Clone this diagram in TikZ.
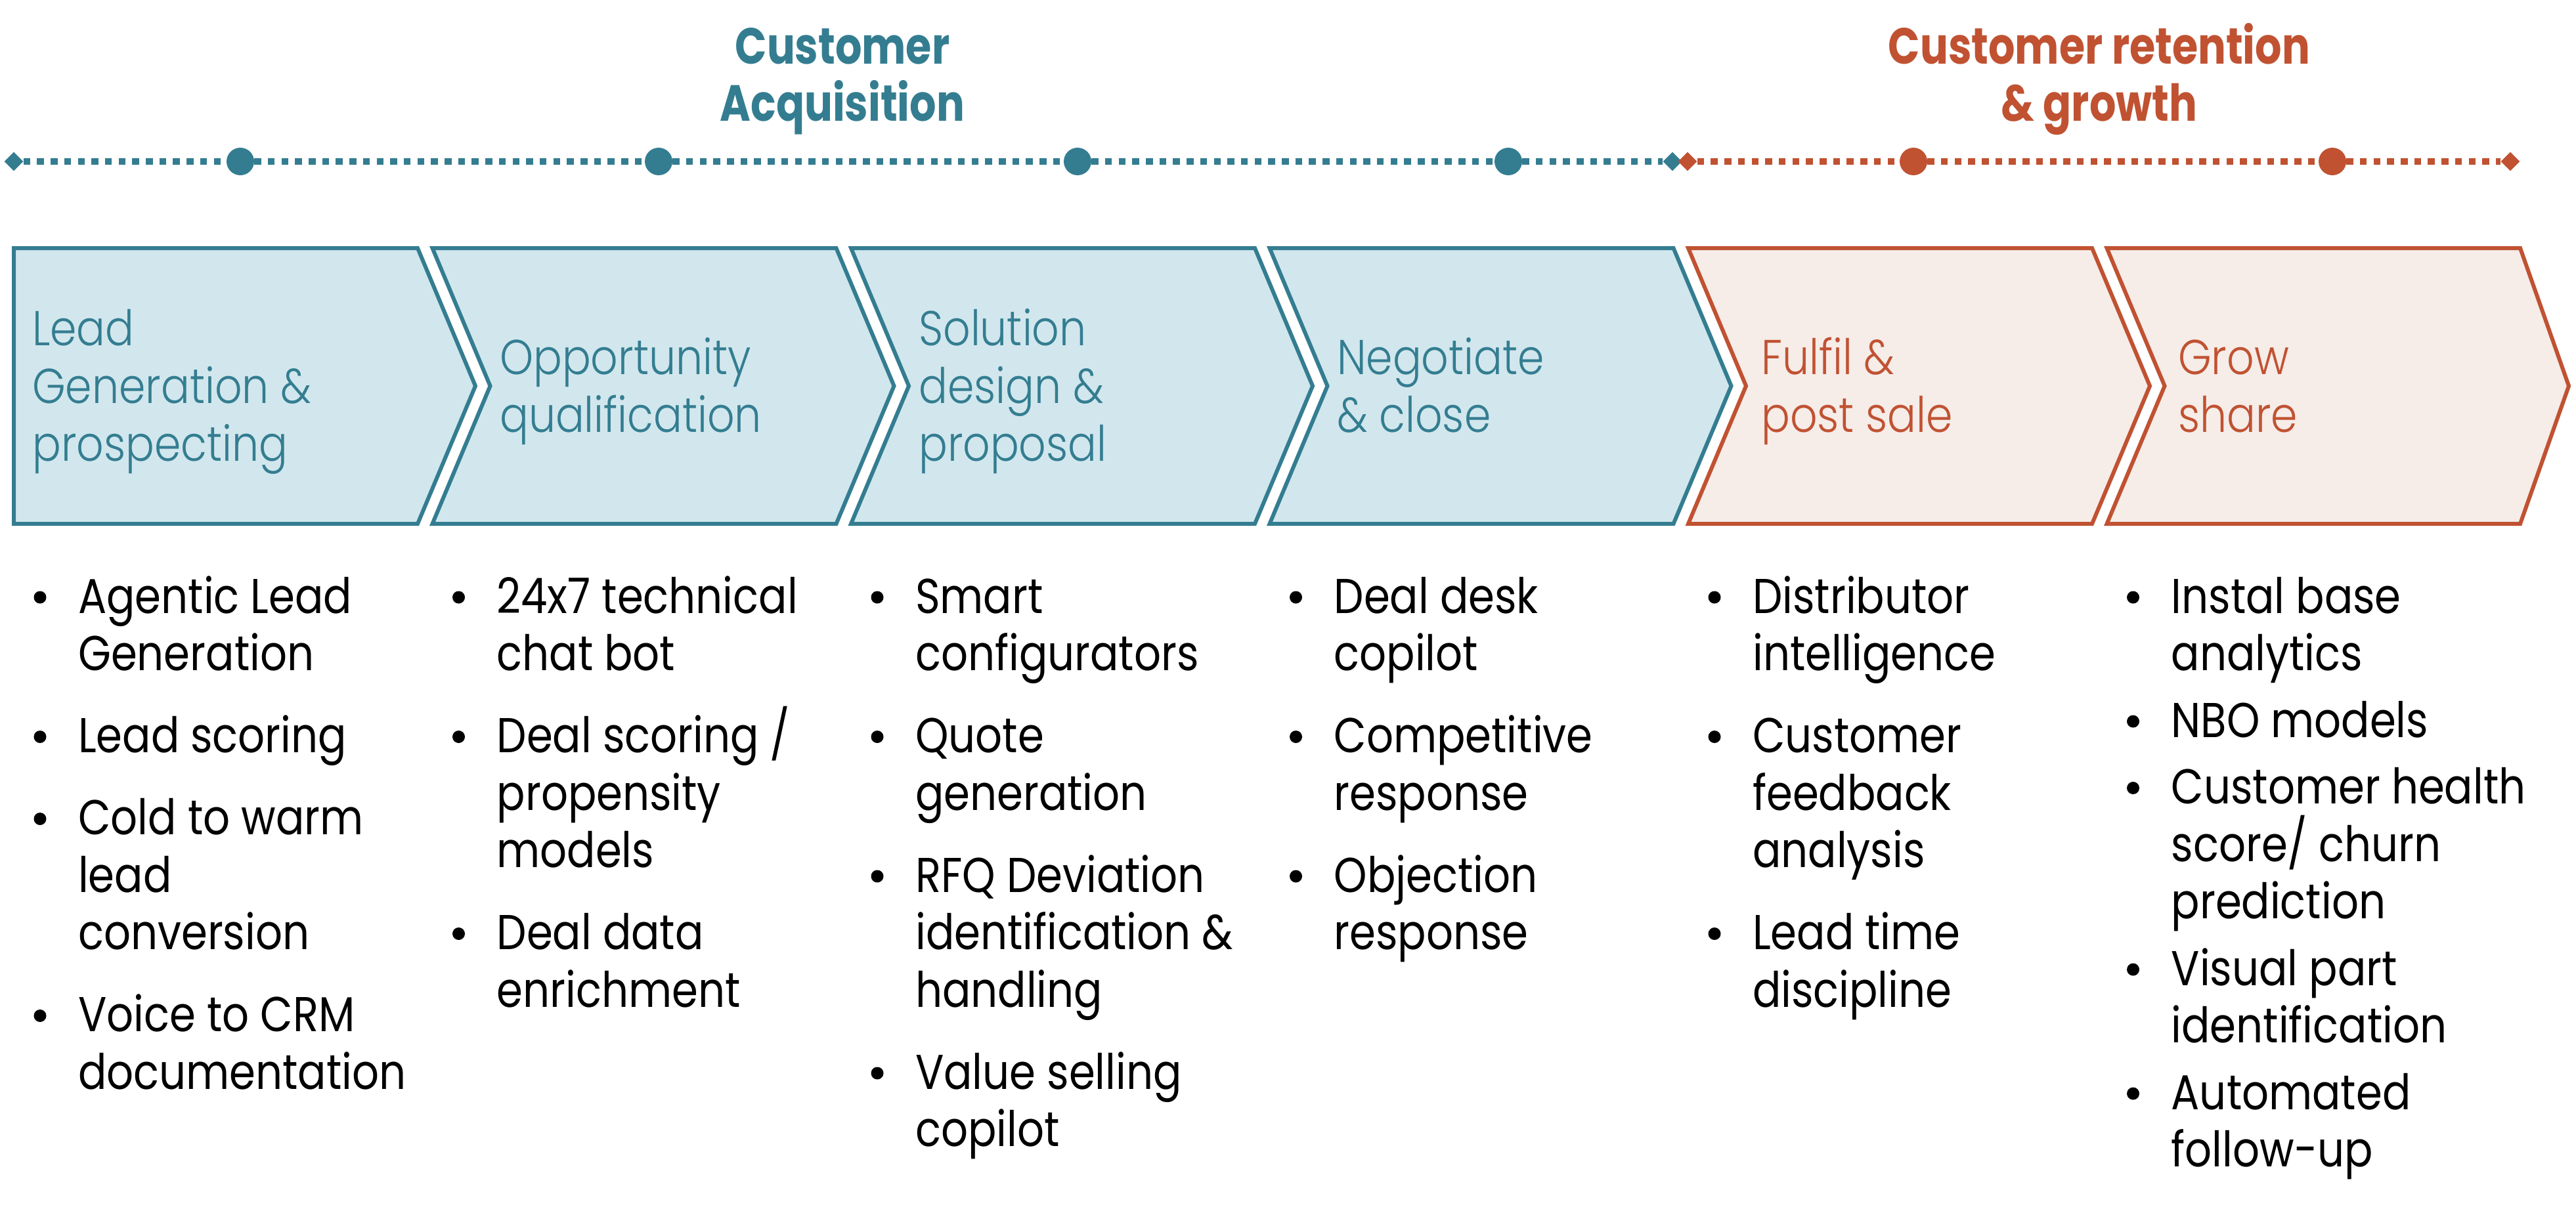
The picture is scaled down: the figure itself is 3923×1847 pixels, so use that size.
\documentclass[tikz,border=0pt]{standalone}
\usepackage{fontspec}
\setmainfont{Poppins}[FakeStretch=0.86]
\newfontfamily\headfont{Poppins}[FakeStretch=0.82]
\newfontfamily\lblfont{Poppins Light}[FakeStretch=0.87]
\usetikzlibrary{shapes.geometric}
\definecolor{tealc}{HTML}{347D91}
\definecolor{tealfill}{HTML}{D1E7ED}
\definecolor{orc}{HTML}{C05232}
\definecolor{orfill}{HTML}{F6ECE8}
\newcommand\bl[4]{\node[bodytxt] (#1) at (#2,#3) {#4};}
\newcommand\bd[3]{\node[bdot] (#1) at (#2,#3) {};}
\begin{document}
\begin{tikzpicture}[x=1pt,y=-1pt,
  bodytxt/.style={anchor=base west, inner sep=0pt, font=\fontsize{74.6}{87.5}\selectfont, text=black},
  lbl/.style={anchor=base west, inner sep=0pt, font=\lblfont\fontsize{74.6}{87.5}\selectfont},
  head/.style={anchor=base, inner sep=0pt, font=\headfont\bfseries\fontsize{77.5}{87}\selectfont},
  bdot/.style={circle, fill=black, inner sep=0pt, minimum size=19pt},
  mstone/.style={circle, inner sep=0pt, minimum size=42pt},
  dia/.style={diamond, inner sep=0pt, minimum width=29pt, minimum height=29pt},
  tline/.style={line width=10.5pt, dash pattern=on 10.5pt off 10.2pt},
  boxt/.style={draw=tealc, fill=tealfill, line width=6pt, line join=miter},
  boxo/.style={draw=orc, fill=orfill, line width=6pt, line join=miter}]
\useasboundingbox (0,0) rectangle (3923,1847);

% headings
\node[head, text=tealc] (h1a) at (1283,97) {Customer};
\node[head, text=tealc] (h1b) at (1283,184) {Acquisition};
\node[head, text=orc] (h2a) at (3197,97) {Customer retention};
\node[head, text=orc] (h2b) at (3197,184) {\& growth};

% timeline
\node[dia, fill=tealc] (dL) at (21,246) {};
\node[mstone, fill=tealc] (m1) at (366,246) {};
\node[mstone, fill=tealc] (m2) at (1003,246) {};
\node[mstone, fill=tealc] (m3) at (1641,246) {};
\node[mstone, fill=tealc] (m4) at (2297,246) {};
\node[dia, fill=tealc] (dM1) at (2547,246) {};
\node[dia, fill=orc] (dM2) at (2570,246) {};
\node[mstone, fill=orc] (m5) at (2914,246) {};
\node[mstone, fill=orc] (m6) at (3552,246) {};
\node[dia, fill=orc] (dR) at (3823,246) {};
\draw[tline, tealc] (dL) -- (m1);
\draw[tline, tealc] (m1) -- (m2);
\draw[tline, tealc] (m2) -- (m3);
\draw[tline, tealc] (m3) -- (m4);
\draw[tline, tealc] (m4) -- (dM1);
\draw[tline, orc] (dM2) -- (m5);
\draw[tline, orc] (m5) -- (m6);
\draw[tline, orc] (m6) -- (dR);

% chevrons
\draw[boxt] (21,378) -- (636,378) -- (724,588) -- (636,798) -- (21,798) -- cycle;
\draw[boxt] (658.5,378) -- (1273.5,378) -- (1361.5,588) -- (1273.5,798) -- (658.5,798) -- (746.5,588) -- cycle;
\draw[boxt] (1296,378) -- (1911,378) -- (1999,588) -- (1911,798) -- (1296,798) -- (1384,588) -- cycle;
\draw[boxt] (1933.5,378) -- (2548.5,378) -- (2636.5,588) -- (2548.5,798) -- (1933.5,798) -- (2021.5,588) -- cycle;
\draw[boxo] (2571,378) -- (3186,378) -- (3274,588) -- (3186,798) -- (2571,798) -- (2659,588) -- cycle;
\draw[boxo] (3208.5,378) -- (3838,378) -- (3912,588) -- (3838,798) -- (3208.5,798) -- (3296.5,588) -- cycle;

% box labels
\node[lbl, text=tealc] (b1a) at (49,526) {Lead};
\node[lbl, text=tealc] (b1b) at (49,614) {Generation \&};
\node[lbl, text=tealc] (b1c) at (49,702) {prospecting};
\node[lbl, text=tealc] (b2a) at (761,570) {Opportunity};
\node[lbl, text=tealc] (b2b) at (761,658) {qualification};
\node[lbl, text=tealc] (b3a) at (1399,526) {Solution};
\node[lbl, text=tealc] (b3b) at (1399,614) {design \&};
\node[lbl, text=tealc] (b3c) at (1399,702) {proposal};
\node[lbl, text=tealc] (b4a) at (2036,570) {Negotiate};
\node[lbl, text=tealc] (b4b) at (2036,658) {\& close};
\node[lbl, text=orc] (b5a) at (2682,570) {Fulfil \&};
\node[lbl, text=orc] (b5b) at (2682,658) {post sale};
\node[lbl, text=orc] (b6a) at (3317,570) {Grow};
\node[lbl, text=orc] (b6b) at (3317,658) {share};

% column 1
\bd{p1a}{61}{910}
\bl{t1a}{119}{934}{Agentic Lead}
\bl{t1b}{119}{1021.5}{Generation}
\bd{p1b}{61}{1122.5}
\bl{t1c}{119}{1146.5}{Lead scoring}
\bd{p1c}{61}{1247.5}
\bl{t1d}{119}{1271.5}{Cold to warm}
\bl{t1e}{119}{1359}{lead}
\bl{t1f}{119}{1446.5}{conversion}
\bd{p1d}{61}{1547.5}
\bl{t1g}{119}{1571.5}{Voice to CRM}
\bl{t1h}{119}{1659}{documentation}

% column 2
\bd{p2a}{698.5}{910}
\bl{t2a}{756.5}{934}{24x7 technical}
\bl{t2b}{756.5}{1021.5}{chat bot}
\bd{p2b}{698.5}{1122.5}
\bl{t2c}{756.5}{1146.5}{Deal scoring /}
\bl{t2d}{756.5}{1234}{propensity}
\bl{t2e}{756.5}{1321.5}{models}
\bd{p2c}{698.5}{1422.5}
\bl{t2f}{756.5}{1446.5}{Deal data}
\bl{t2g}{756.5}{1534}{enrichment}

% column 3
\bd{p3a}{1336}{910}
\bl{t3a}{1394}{934}{Smart}
\bl{t3b}{1394}{1021.5}{configurators}
\bd{p3b}{1336}{1122.5}
\bl{t3c}{1394}{1146.5}{Quote}
\bl{t3d}{1394}{1234}{generation}
\bd{p3c}{1336}{1335}
\bl{t3e}{1394}{1359}{RFQ Deviation}
\bl{t3f}{1394}{1446.5}{identification \&}
\bl{t3g}{1394}{1534}{handling}
\bd{p3d}{1336}{1635}
\bl{t3h}{1394}{1659}{Value selling}
\bl{t3i}{1394}{1746.5}{copilot}

% column 4
\bd{p4a}{1973.5}{910}
\bl{t4a}{2031.5}{934}{Deal desk}
\bl{t4b}{2031.5}{1021.5}{copilot}
\bd{p4b}{1973.5}{1122.5}
\bl{t4c}{2031.5}{1146.5}{Competitive}
\bl{t4d}{2031.5}{1234}{response}
\bd{p4c}{1973.5}{1335}
\bl{t4e}{2031.5}{1359}{Objection}
\bl{t4f}{2031.5}{1446.5}{response}

% column 5
\bd{p5a}{2611}{910}
\bl{t5a}{2669}{934}{Distributor}
\bl{t5b}{2669}{1021.5}{intelligence}
\bd{p5b}{2611}{1122.5}
\bl{t5c}{2669}{1146.5}{Customer}
\bl{t5d}{2669}{1234}{feedback}
\bl{t5e}{2669}{1321.5}{analysis}
\bd{p5c}{2611}{1422.5}
\bl{t5f}{2669}{1446.5}{Lead time}
\bl{t5g}{2669}{1534}{discipline}

% column 6
\bd{p6a}{3248.5}{910}
\bl{t6a}{3306.5}{934}{Instal base}
\bl{t6b}{3306.5}{1021.5}{analytics}
\bd{p6b}{3248.5}{1099}
\bl{t6c}{3306.5}{1123}{NBO models}
\bd{p6c}{3248.5}{1200.5}
\bl{t6d}{3306.5}{1224.5}{Customer health}
\bl{t6e}{3306.5}{1312}{score/ churn}
\bl{t6f}{3306.5}{1399.5}{prediction}
\bd{p6d}{3248.5}{1477}
\bl{t6g}{3306.5}{1501}{Visual part}
\bl{t6h}{3306.5}{1588.5}{identification}
\bd{p6e}{3248.5}{1666}
\bl{t6i}{3306.5}{1690}{Automated}
\bl{t6j}{3306.5}{1777.5}{follow-up}
\end{tikzpicture}
\end{document}
